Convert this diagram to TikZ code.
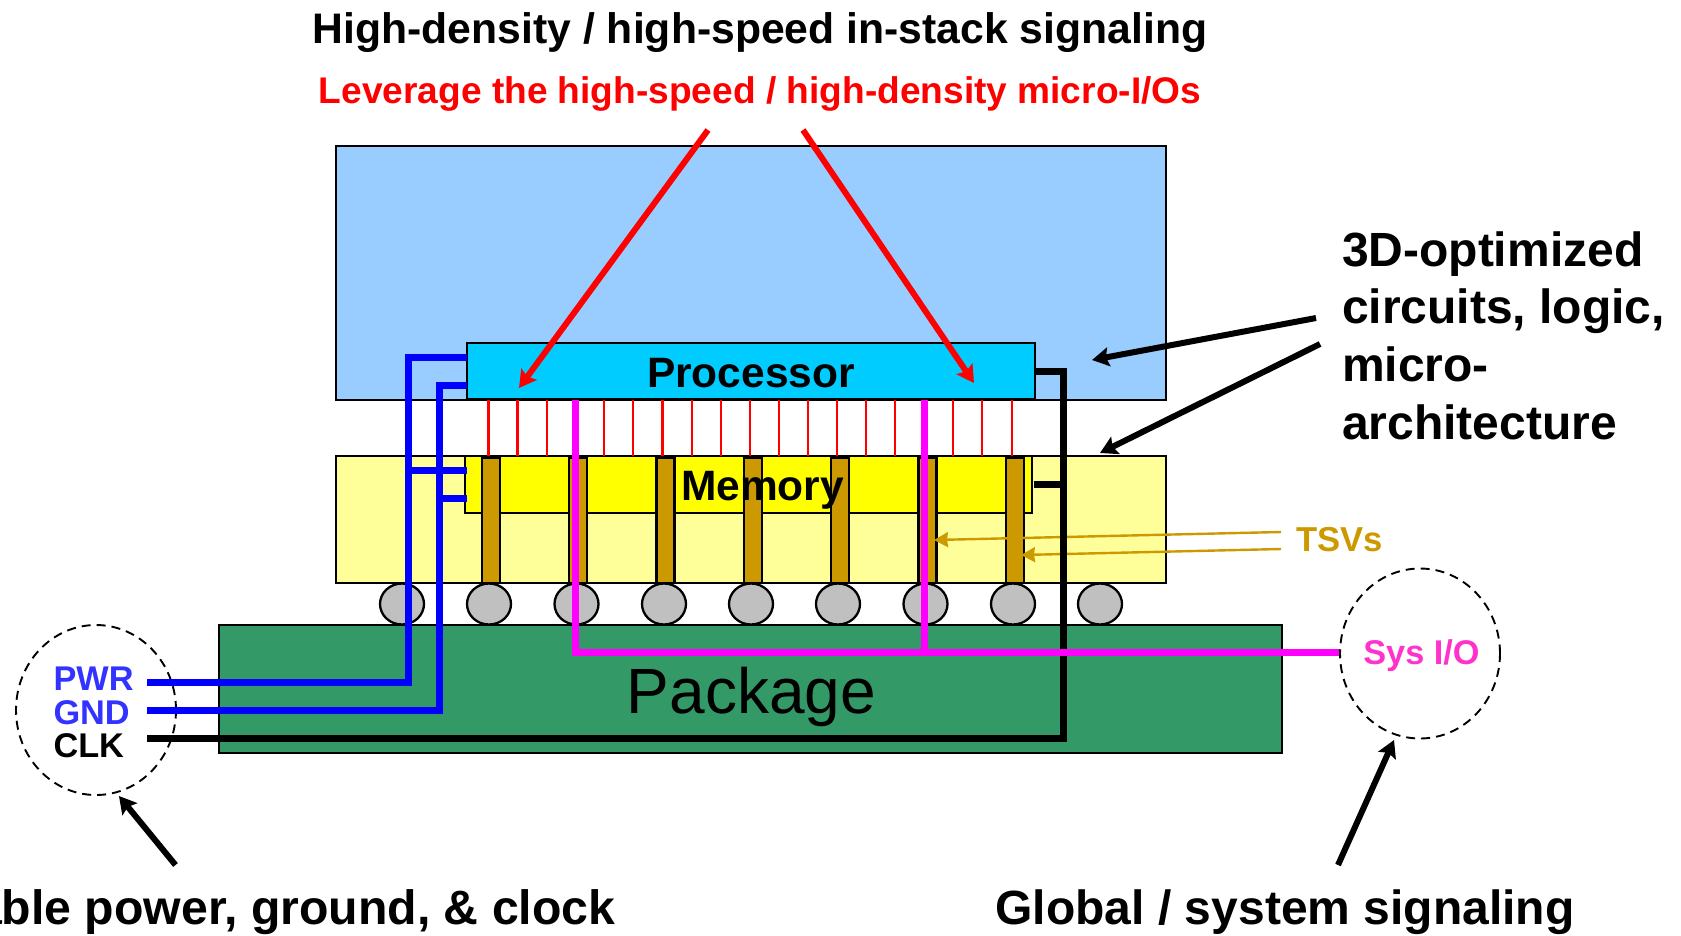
\documentclass[tikz,border=0pt]{standalone}
\usepackage{fontspec}
\setmainfont{Liberation Sans}
\usetikzlibrary{arrows.meta,shapes.geometric}
\definecolor{ltblue}{HTML}{99CCFF}
\definecolor{proccy}{HTML}{00CCFF}
\definecolor{ltyel}{HTML}{FFFF99}
\definecolor{puryel}{HTML}{FFFF00}
\definecolor{tsvc}{HTML}{CC9900}
\definecolor{pkgc}{HTML}{339966}
\definecolor{ballc}{HTML}{C0C0C0}
\definecolor{lblblue}{HTML}{3333FF}
\definecolor{lblmag}{HTML}{FF33CC}
\definecolor{wmag}{HTML}{FF00FF}
\definecolor{wblue}{HTML}{0000FF}
\definecolor{wred}{HTML}{FF0000}
\newcommand{\fs}[1]{\fontsize{#1}{#1}\selectfont\bfseries}
\tikzset{
  boxn/.style={draw=black,line width=2.3pt,inner sep=0pt,outer sep=0pt},
  ball/.style={draw=black,fill=ballc,line width=2.3pt,ellipse,inner sep=0pt,minimum width=44pt,minimum height=41pt},
  tsv/.style={boxn,fill=tsvc,minimum width=18pt,minimum height=125pt},
  mio/.style={wred,line width=2.8pt},
  wireb/.style={wblue,line width=7pt},
  wirek/.style={black,line width=7pt},
  wirem/.style={wmag,line width=7pt},
  dashc/.style={draw=black,ellipse,line width=1.9pt,dash pattern=on 9pt off 6pt,inner sep=0pt,minimum width=160pt,minimum height=170pt},
  redarr/.style={wred,line width=6pt,-{Stealth[length=17pt,width=19pt,inset=3pt]}},
  blkarr/.style={black,line width=6pt,-{Stealth[length=17pt,width=19pt,inset=3pt]}},
  tsvarr/.style={tsvc,line width=2.4pt,-{Stealth[length=14pt,width=15pt,inset=1pt]}},
  txt/.style={inner sep=0pt,outer sep=0pt,align=left},
}
\begin{document}
\begin{tikzpicture}[x=1pt,y=-1pt]
\useasboundingbox (0,0) rectangle (1681,935);
% free ends
\coordinate (pwrs) at (147,682);
\coordinate (gnds) at (147,710);
\coordinate (clks) at (147,738);
% main boxes
\node[boxn,fill=ltblue,minimum width=830pt,minimum height=254pt] (logic) at (751,273) {};
\node[boxn,fill=ltyel,minimum width=830pt,minimum height=127pt] (memlow) at (751,519.5) {};
\node[boxn,fill=puryel,minimum width=567pt,minimum height=57pt] (memtop) at (748.5,484.5) {};
\node[boxn,fill=proccy,minimum width=568pt,minimum height=56pt] (proc) at (751,371) {};
\node[boxn,fill=pkgc,minimum width=1063pt,minimum height=128pt] (pkg) at (750.5,689) {};
% balls
\foreach \n/\x in {1/402,2/489,3/576.5,4/664,5/751,6/838,7/925.5,8/1013,9/1100}
  \node[ball] (b\n) at (\x,604) {};
% TSVs
\foreach \n/\x in {1/491,2/578,3/665.5,4/753,5/840,6/927.5,7/1015}
  \node[tsv] (t\n) at (\x,520.5) {};
% micro-I/Os
\foreach \x in {488.7,517.8,546.9,604,633,662.7,692,721,750,779,808,837,866,895,953,982,1012}
  \draw[mio] (\x,400) -- (\x,456);
% TSV labels and arrows
\node[txt,text=tsvc] (tsvl) at (1339.5,540) {\fs{34.6}TSVs};
\coordinate (ta) at (1281,532);
\coordinate (tb) at (1281,549);
\coordinate (tat) at (934,540);
\coordinate (tbt) at (1021,555);
\draw[tsvarr] (ta) -- (tat);
\draw[tsvarr] (tb) -- (tbt);
% circles
\node[dashc] (cl) at (96,710) {};
\node[dashc] (cr) at (1420,653.5) {};
% wires
\coordinate (pwrc) at (408,682);
\coordinate (pwrt) at (408,357);
\coordinate (gndc) at (439,710);
\coordinate (gndt) at (439,385);
\draw[wireb,line join=miter] (pwrs) -- (pwrc) -- (pwrt) -- (467,357);
\draw[wireb,line join=miter] (gnds) -- (gndc) -- (gndt) -- (467,385);
\coordinate (pwrb) at (408,470);
\coordinate (gndb) at (439,498);
\draw[wireb] (pwrb) -- (467,470);
\draw[wireb] (gndb) -- (467,498);
\coordinate (clkc) at (1063,738);
\coordinate (clkt) at (1063,371);
\coordinate (clkb) at (1063,484);
\draw[wirek,line join=miter] (clks) -- (clkc) -- (clkt) -- (1035,371);
\draw[wirek] (clkb) -- (1034,484);
\coordinate (sysa) at (575,652.5);
\coordinate (sysb) at (924,652.5);
\coordinate (sysr) at (1339,652.5);
\draw[wirem,line join=miter] (575,400) -- (sysa) -- (sysb) -- (sysr);
\draw[wirem] (sysb) -- (924,400);
% labels
\node[inner sep=0pt] (ptxt) at (751,373) {\fs{42.5}Processor};
\node[inner sep=0pt] (mtxt) at (762.5,490) {\fs{42.5}Memory};
\node[inner sep=0pt] (pktxt) at (751.5,697) {\fontsize{64}{64}\selectfont Package};
\node[txt,anchor=west,text=lblblue] (pwr) at (53.5,679) {\fs{34.3}PWR};
\node[txt,anchor=west,text=lblblue] (gnd) at (53.5,713) {\fs{34.3}GND};
\node[txt,anchor=west] (clk) at (53.5,746) {\fs{34.3}CLK};
\node[txt,text=lblmag] (sys) at (1421.5,656) {\fs{34.3}Sys I/O};
\node[inner sep=0pt] (title) at (760,32.5) {\fs{42.7}High-density / high-speed in-stack signaling};
\node[inner sep=0pt,text=wred] (sub) at (760,94) {\fs{37.1}Leverage the high-speed / high-density micro-I/Os};
\node[txt,anchor=west,font=\fontsize{48}{57.7}\selectfont\bfseries] (opt) at (1342,335.5) {3D-optimized\\circuits, logic,\\micro-\\architecture};
\node[inner sep=0pt,anchor=east] (scal) at (615.5,912) {\fs{48.2}able power, ground, \& clock};
\node[inner sep=0pt] (glob) at (1285,912) {\fs{48}Global / system signaling};
% annotation arrows
\coordinate (ra) at (708,130);
\coordinate (rb) at (803,130);
\coordinate (rat) at (519,388);
\coordinate (rbt) at (974,383);
\draw[redarr] (ra) -- (rat);
\draw[redarr] (rb) -- (rbt);
\coordinate (ka) at (1316,318);
\coordinate (kb) at (1320,344);
\coordinate (kat) at (1092,360);
\coordinate (kbt) at (1100,453);
\draw[blkarr] (ka) -- (kat);
\draw[blkarr] (kb) -- (kbt);
\coordinate (kc) at (175.5,865);
\coordinate (kct) at (119,796);
\coordinate (kd) at (1338,865);
\coordinate (kdt) at (1394,740);
\draw[blkarr] (kc) -- (kct);
\draw[blkarr] (kd) -- (kdt);
\end{tikzpicture}
\end{document}
